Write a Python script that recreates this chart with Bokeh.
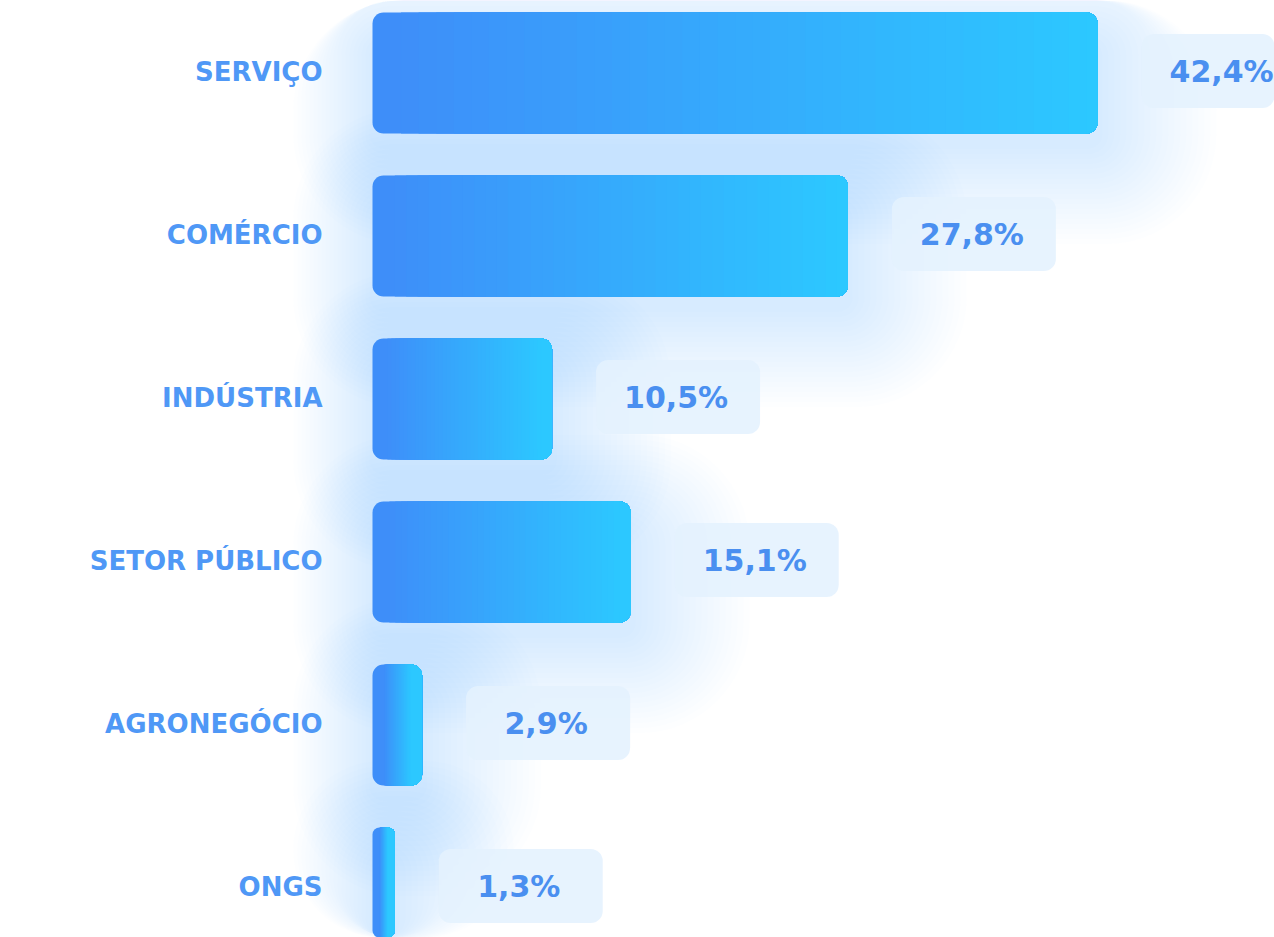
import numpy as np
from bokeh.plotting import figure
from bokeh.models import ColumnDataSource, Range1d
from bokeh.core.properties import value
from bokeh.embed import file_html
from bokeh.resources import INLINE

# ---- data ----
categories = ["SERVIÇO", "COMÉRCIO", "INDÚSTRIA", "SETOR PÚBLICO", "AGRONEGÓCIO", "ONGS"]
values = [42.4, 27.8, 10.5, 15.1, 2.9, 1.3]
value_labels = ["42,4%", "27,8%", "10,5%", "15,1%", "2,9%", "1,3%"]

# ---- layout constants ----
W, H = 1274, 937
PX = 17.1     # pixels per percentage point
ROW = 163     # pixels per row
X0 = 372      # frame pixel of value 0
Y0 = 72.5     # frame pixel of first row centre
R = 11        # bar corner radius (px)
BAR_H = 121 / ROW

C0 = np.array([62, 142, 249])   # left colour of bars
C1 = np.array([44, 200, 255])   # right colour of bars

n = len(categories)
ys = list(range(n))

p = figure(width=W, height=H,
           x_range=Range1d(-X0 / PX, (W - X0) / PX),
           y_range=Range1d((H - Y0) / ROW, -Y0 / ROW),
           output_backend="svg", toolbar_location=None, min_border=0,
           x_axis_location=None, y_axis_location=None,
           background_fill_color="white", border_fill_color="white",
           outline_line_color=None)
p.grid.visible = False

# ---- soft glow behind bars ----
for e in range(4, 100, 5):
    src = ColumnDataSource(dict(
        y=[i + 22 / ROW for i in ys],
        left=[-e * 0.8 / PX] * n,
        right=[v + e * 1.2 / PX for v in values],
    ))
    p.hbar(y="y", left="left", right="right", height=(100 + 2 * e) / ROW,
           source=src, fill_color="#66baff", fill_alpha=0.017,
           line_color=None, border_radius=R + e)

# ---- bars with a left-to-right gradient ----
N = 40
for i, v in enumerate(values):
    vpx = v * PX
    r = int(min(R, vpx // 3))
    p.hbar(y=[i], left=[0], right=[v], height=BAR_H,
           fill_color="#%02x%02x%02x" % tuple(C0), line_color=None, border_radius=r)
    r_data = r / PX
    span = v - 2 * r_data
    ll, lc = [], []
    for k in range(1, N + 1):
        t = k / N
        c = (C0 + (C1 - C0) * t).round().astype(int)
        ll.append(r_data + span * t)
        lc.append("#%02x%02x%02x" % tuple(c))
    gsrc = ColumnDataSource(dict(y=[i] * N, left=ll, right=[v] * N, color=lc))
    p.hbar(y="y", left="left", right="right", height=BAR_H, source=gsrc,
           fill_color="color", line_color=None, border_radius=(0, r, r, 0))

# ---- value boxes ----
bsrc = ColumnDataSource(dict(
    y=[i - 2 / ROW for i in ys],
    left=[v + 44 / PX for v in values],
    right=[v + 208 / PX for v in values],
    xc=[v + 124 / PX for v in values],
    label=value_labels,
))
p.hbar(y="y", left="left", right="right", height=74 / ROW, source=bsrc,
       fill_color="#e4f1fe", fill_alpha=0.88, line_color=None, border_radius=12)
p.text(x="xc", y="y", text="label", source=bsrc, text_align="center",
       text_baseline="middle", text_font=value("DejaVu Sans"),
       text_font_style="bold", text_font_size="30px", text_color="#4a8ff0")

# ---- category labels ----
p.text(x=[0] * n, y=[i - 1.5 / ROW for i in ys], text=categories, x_offset=-50,
       text_align="right", text_baseline="middle", text_font=value("DejaVu Sans"),
       text_font_style="bold", text_font_size="26px", text_color="#4f98f6")

open("out.html", "w").write(file_html(p, INLINE))
